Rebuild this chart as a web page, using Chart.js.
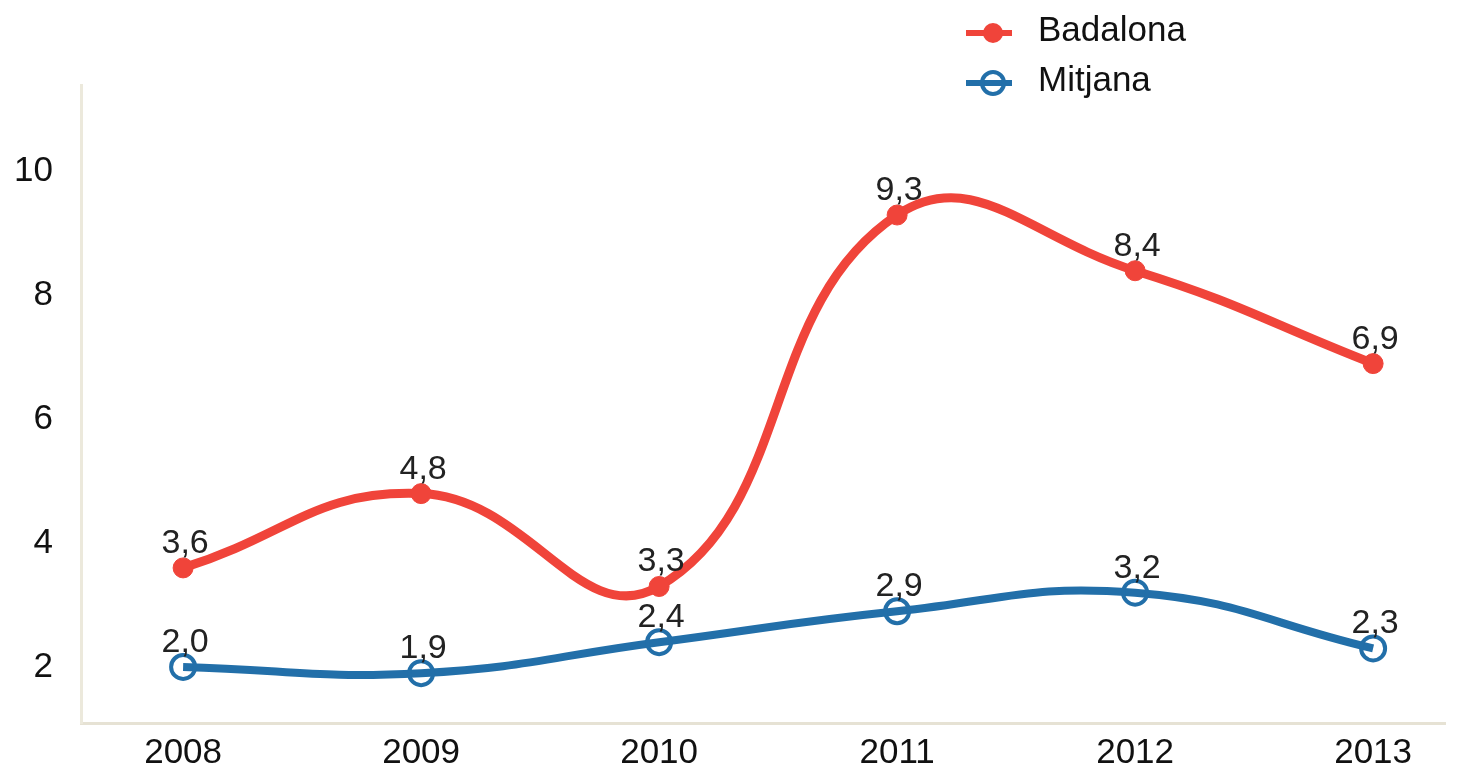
<!DOCTYPE html>
<html>
<head>
<meta charset="utf-8">
<script src="https://cdn.jsdelivr.net/npm/chart.js@4/dist/chart.umd.min.js"></script>
<style>
  html, body { margin: 0; padding: 0; background: #fff; }
  #wrap { width: 1461px; height: 773px; }
</style>
</head>
<body>
<div id="wrap"><canvas id="chart"></canvas></div>
<script>
const years = [2008, 2009, 2010, 2011, 2012, 2013];
const badalona = [3.6, 4.8, 3.3, 9.3, 8.4, 6.9];
const mitjana = [2.0, 1.9, 2.4, 2.9, 3.2, 2.3];
const yTicks = [2, 4, 6, 8, 10];

const RED = '#f0443a';
const BLUE = '#226fa9';
const FONT = "'Liberation Sans', Arial, sans-serif";

const toPoints = vals => vals.map((v, i) => ({ x: years[i], y: v }));

// value labels above each point, decimal comma
const valueLabels = {
  id: 'valueLabels',
  afterDatasetsDraw(chart) {
    const ctx = chart.ctx;
    ctx.save();
    ctx.font = '34px ' + FONT;
    ctx.fillStyle = '#222';
    ctx.textAlign = 'center';
    ctx.textBaseline = 'alphabetic';
    chart.data.datasets.forEach((ds, i) => {
      chart.getDatasetMeta(i).data.forEach((pt, j) => {
        const txt = ds.data[j].y.toFixed(1).replace('.', ',');
        ctx.fillText(txt, pt.x + 2, pt.y - 15);
      });
    });
    ctx.restore();
  }
};

// vertical legend, top right
const sideLegend = {
  id: 'sideLegend',
  afterDraw(chart) {
    const ctx = chart.ctx;
    ctx.save();
    chart.data.datasets.forEach((ds, i) => {
      const y = 33 + i * 50;
      const hollow = i === 1;
      ctx.strokeStyle = ds.borderColor;
      ctx.lineWidth = 6;
      ctx.beginPath();
      ctx.moveTo(966, y);
      ctx.lineTo(1012, y);
      ctx.stroke();
      ctx.beginPath();
      ctx.arc(993, y, hollow ? 11 : 10, 0, Math.PI * 2);
      if (hollow) {
        ctx.lineWidth = 4;
        ctx.stroke();
      } else {
        ctx.fillStyle = ds.borderColor;
        ctx.fill();
      }
      ctx.font = '35px ' + FONT;
      ctx.fillStyle = '#111';
      ctx.textAlign = 'left';
      ctx.textBaseline = 'middle';
      ctx.fillText(ds.label, 1038, y - 2);
    });
    ctx.restore();
  }
};

new Chart(document.getElementById('chart'), {
  type: 'line',
  data: {
    datasets: [{
      label: 'Badalona',
      data: toPoints(badalona),
      borderColor: RED,
      borderWidth: 9,
      tension: 0.45,
      pointRadius: 10,
      pointBackgroundColor: RED,
      pointBorderColor: RED,
      pointBorderWidth: 1
    }, {
      label: 'Mitjana',
      data: toPoints(mitjana),
      borderColor: BLUE,
      borderWidth: 8,
      tension: 0.45,
      pointRadius: 12,
      pointBackgroundColor: 'rgba(255,255,255,0)',
      pointBorderColor: BLUE,
      pointBorderWidth: 4
    }]
  },
  options: {
    responsive: true,
    maintainAspectRatio: false,
    animation: false,
    layout: { padding: { top: 85, right: 6, left: 0, bottom: 0 } },
    plugins: { legend: { display: false }, tooltip: { enabled: false } },
    scales: {
      x: {
        type: 'linear',
        min: 2007.571,
        max: 2013.302,
        afterBuildTicks: s => { s.ticks = years.map(v => ({ value: v })); },
        afterFit: s => { s.height = 50; },
        grid: { display: true, drawOnChartArea: false, drawTicks: false },
        border: { display: true, color: '#e6e2d4', width: 3 },
        ticks: {
          padding: 9,
          color: '#111',
          font: { family: FONT, size: 35 },
          callback: v => String(v)
        }
      },
      y: {
        min: 1.095,
        max: 11.4,
        afterBuildTicks: s => { s.ticks = yTicks.map(v => ({ value: v })); },
        afterFit: s => { s.width = 81; },
        grid: { display: true, drawOnChartArea: false, drawTicks: false },
        border: { display: true, color: '#ece9dc', width: 3 },
        ticks: {
          padding: 28,
          color: '#111',
          font: { family: FONT, size: 35 },
          callback: v => String(v)
        }
      }
    }
  },
  plugins: [valueLabels, sideLegend]
});
</script>
</body>
</html>
